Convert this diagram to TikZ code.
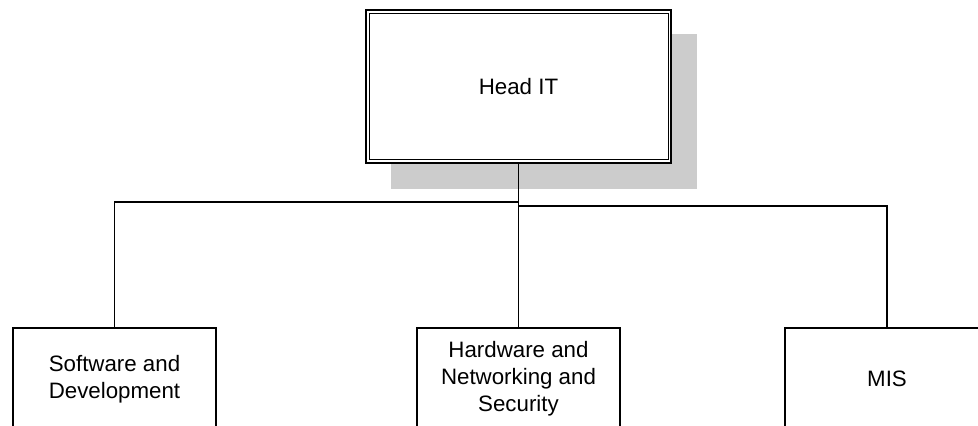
\documentclass[tikz,border=0pt]{standalone}
\usepackage{fontspec}
\setmainfont{Liberation Sans}
\begin{document}
\begin{tikzpicture}[x=1pt,y=-1pt,
  every node/.style={font=\fontsize{22.3}{26.8}\selectfont},
  unitbox/.style={draw, line width=1.6pt, fill=white, align=center,
    minimum width=203pt, minimum height=102pt, inner sep=0pt},
  headbox/.style={draw, line width=2.3pt, fill=white, align=center,
    minimum width=305pt, minimum height=153pt, inner sep=0pt},
  link/.style={line width=1.6pt}]
\useasboundingbox (0,0) rectangle (978,426);
\clip (0,0) rectangle (978,426);

% head of the department, with its drop shadow and double frame
\fill[black!20] (391,34) rectangle (697,189);
\node[headbox] (head) at (518.5,86.5) {Head IT};
\draw[line width=1.2pt] ([shift={(5,5)}]head.north west) rectangle ([shift={(-4,-5)}]head.south east);

% units
\node[unitbox] (soft) at (114.5,379) {Software and\\Development};
\node[unitbox] (hard) at (518.5,379) {Hardware and\\Networking and\\Security};
\node[unitbox, minimum width=204pt] (mis) at (887,379) {MIS};

% reporting lines
\draw[link] (head.south) -- (hard.north);
\draw[link] (head.south) |- (soft.north |- 0,202) -- (soft.north);
\draw[link] (head.south) |- (mis.north |- 0,206) -- (mis.north);
\end{tikzpicture}
\end{document}
